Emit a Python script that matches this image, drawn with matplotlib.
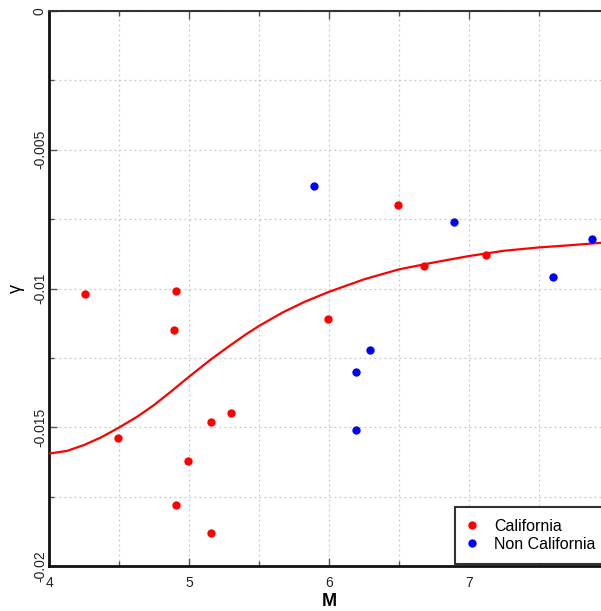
import matplotlib
matplotlib.use("Agg")
import matplotlib.pyplot as plt
from matplotlib.ticker import MultipleLocator, FixedLocator

plt.rcParams['font.family'] = ['Liberation Sans', 'DejaVu Sans']

# California points
cal_M = [4.26, 4.49, 4.91, 4.89, 4.99, 4.91, 5.16, 5.30, 5.16, 5.99, 6.49, 6.68, 7.12]
cal_g = [-0.0102, -0.0154, -0.0101, -0.0115, -0.0162, -0.0178, -0.0148, -0.0145, -0.0188, -0.0111, -0.0070, -0.0092, -0.0088]

# Non-California points
non_M = [5.89, 6.29, 6.19, 6.19, 6.89, 7.60, 7.88]
non_g = [-0.0063, -0.0122, -0.0130, -0.0151, -0.0076, -0.0096, -0.0082]

# Fitted curve
curve_M = [4.0, 4.13, 4.25, 4.37, 4.49, 4.63, 4.75, 4.87, 5.0, 5.15, 5.28, 5.41, 5.5, 5.67,
           5.83, 6.0, 6.25, 6.5, 6.75, 7.0, 7.25, 7.5, 7.75, 8.0]
curve_g = [-0.01595, -0.01585, -0.01564, -0.01537, -0.01504, -0.01462, -0.0142, -0.01372,
           -0.01318, -0.01258, -0.0121, -0.01164, -0.01135, -0.01086, -0.01047, -0.01012,
           -0.00967, -0.00931, -0.00906, -0.00883, -0.00864, -0.00852, -0.00843, -0.00833]

x_ticks = [4, 5, 6, 7]
x_tick_labels = ['4', '5', '6', '7']
y_ticks = [-0.02, -0.015, -0.01, -0.005, 0]
y_tick_labels = ['-0.02', '-0.015', '-0.01', '-0.005', '0']

fig = plt.figure(figsize=(6.01, 6.11), dpi=100)
ax = fig.add_axes([49/601, 45/611, 560/601, 555/611])

ax.plot(curve_M, curve_g, color='#ff0000', lw=1.6, zorder=3, solid_joinstyle='round')
ax.plot(cal_M, cal_g, 'o', color='#ff0000', ms=6, mew=0, label='California', zorder=4)
ax.plot(non_M, non_g, 'o', color='#0000ff', ms=6, mew=0, label='Non California', zorder=4)

ax.set_xlim(4, 8)
ax.set_ylim(-0.02, 0)

ax.xaxis.set_major_locator(FixedLocator(x_ticks))
ax.set_xticklabels(x_tick_labels)
ax.yaxis.set_major_locator(FixedLocator(y_ticks))
ax.set_yticklabels(y_tick_labels, rotation=90, va='center')
ax.xaxis.set_minor_locator(MultipleLocator(0.5))
ax.yaxis.set_minor_locator(MultipleLocator(0.0025))

ax.grid(True, which='both', color='#c8c8c8', linestyle=(0, (1.5, 2.5)), linewidth=0.9)
ax.set_axisbelow(True)

ax.tick_params(which='both', direction='in', top=True, right=True, color='#555555',
               labelsize=10, labelcolor='#222222')
ax.tick_params(which='major', length=6, width=1)
ax.tick_params(which='minor', length=3.5, width=1)
ax.tick_params(axis='x', which='major', pad=7)
ax.tick_params(axis='y', which='major', pad=1.5)

for s in ['left', 'bottom']:
    ax.spines[s].set_linewidth(2)
    ax.spines[s].set_color('#111111')
for s in ['top', 'right']:
    ax.spines[s].set_linewidth(1.5)
    ax.spines[s].set_color('#333333')

ax.set_xlabel('M', fontsize=13, fontweight='bold', labelpad=2)
ax.set_ylabel('γ', fontsize=13, labelpad=6)

leg = ax.legend(loc='lower left', bbox_to_anchor=(0.725, 0.004), borderaxespad=0,
                fontsize=11.5, frameon=True, fancybox=False, handlelength=0.6,
                handletextpad=1.1, labelspacing=0.2, borderpad=0.75, numpoints=1)
leg.get_frame().set_edgecolor('#333333')
leg.get_frame().set_linewidth(1.5)
leg.get_frame().set_alpha(1)

fig.savefig('out.png', dpi=100)
